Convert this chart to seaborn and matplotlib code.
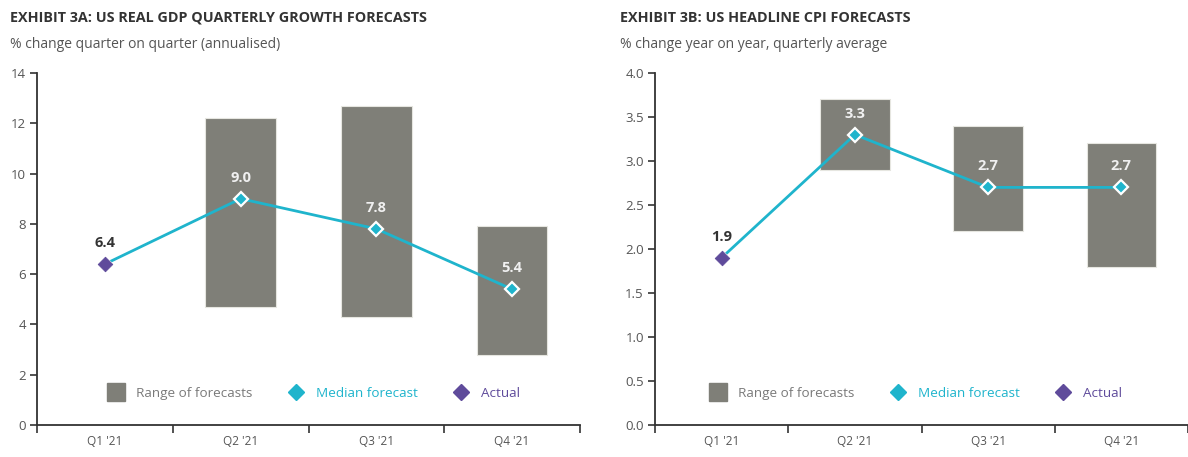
import matplotlib
matplotlib.use("Agg")
import matplotlib.pyplot as plt
from matplotlib.lines import Line2D
import numpy as np
import pandas as pd
import seaborn as sns

# Quarter labels
quarters = ["Q1 '21", "Q2 '21", "Q3 '21", "Q4 '21"]

# GDP: forecast range (low / high), median forecast and actual print
gdp_low = [np.nan, 4.7, 4.3, 2.8]
gdp_high = [np.nan, 12.2, 12.7, 7.9]
gdp_median = [np.nan, 9.0, 7.8, 5.4]
gdp_actual = [6.4, np.nan, np.nan, np.nan]

# CPI: forecast range (low / high), median forecast and actual print
cpi_low = [np.nan, 2.9, 2.2, 1.8]
cpi_high = [np.nan, 3.7, 3.4, 3.2]
cpi_median = [np.nan, 3.3, 2.7, 2.7]
cpi_actual = [1.9, np.nan, np.nan, np.nan]

GREY = "#7f7f78"
CYAN = "#1fb4cc"
PURPLE = "#5f4b9b"
DARK = "#333333"
TEXT = "#555555"

sns.set_theme(style="white")
plt.rcParams["font.family"] = ["Open Sans", "DejaVu Sans"]

fig = plt.figure(figsize=(11.88, 4.57), dpi=100)
ax1 = fig.add_axes([37 / 1188, 32 / 457, 543 / 1188, 352 / 457])
ax2 = fig.add_axes([655 / 1188, 32 / 457, 533 / 1188, 352 / 457])


def draw_panel(ax, low, high, median, actual, ylim, step, fmt, label_off, legend_x):
    df = pd.DataFrame({"quarter": quarters, "low": low, "high": high,
                       "median": median, "actual": actual})
    df["span"] = df["high"] - df["low"]
    # line runs through the actual value and then the medians
    df["path"] = df["actual"].fillna(df["median"])

    ranges = df.dropna(subset=["span"])
    sns.barplot(data=ranges, x="quarter", y="span", order=quarters,
                bottom=ranges["low"].values, color=GREY,
                width=0.52, saturation=1, edgecolor="#e6e6e0", linewidth=0.8,
                ax=ax, zorder=2)
    sns.pointplot(data=df, x="quarter", y="path", order=quarters, color=CYAN,
                  markers="D", linewidth=2, markersize=7,
                  markeredgecolor="white", markeredgewidth=1.6, ax=ax, zorder=3)
    sns.scatterplot(data=df.dropna(subset=["actual"]), x="quarter", y="actual",
                    marker="D", s=55, color=PURPLE, edgecolor=PURPLE, ax=ax,
                    zorder=4, legend=False)

    for i, row in df.iterrows():
        val = row["path"]
        on_bar = not np.isnan(row["median"])
        ax.text(i, val + label_off, f"{val:.1f}", ha="center", va="bottom",
                fontsize=10.5, fontweight="bold",
                color="#f0f0f0" if on_bar else DARK, zorder=5)

    ax.set_xlim(-0.5, 3.5)
    ax.set_ylim(*ylim)
    ax.set_yticks(np.arange(ylim[0], ylim[1] + step / 2, step))
    ax.yaxis.set_major_formatter(matplotlib.ticker.FormatStrFormatter(fmt))
    ax.set_xticks([0, 1, 2, 3])
    ax.set_xticklabels(quarters)
    ax.set_xticks([-0.5, 0.5, 1.5, 2.5, 3.5], minor=True)
    ax.tick_params(axis="x", which="major", length=0, pad=7, labelsize=8.5,
                   labelcolor=TEXT)
    ax.tick_params(axis="x", which="minor", length=6, width=1.2, color=DARK,
                   direction="out", bottom=True)
    ax.tick_params(axis="y", length=5, width=1.2, color=DARK, direction="out",
                   left=True, labelsize=9.5, labelcolor=TEXT, pad=3)
    ax.set_xlabel("")
    ax.set_ylabel("")
    sns.despine(ax=ax)
    for side in ("left", "bottom"):
        ax.spines[side].set_color(DARK)
        ax.spines[side].set_linewidth(1.3)

    handles = [
        Line2D([], [], marker="s", linestyle="none", markersize=13,
               markerfacecolor=GREY, markeredgecolor=GREY),
        Line2D([], [], marker="D", linestyle="none", markersize=8,
               markerfacecolor=CYAN, markeredgecolor=CYAN),
        Line2D([], [], marker="D", linestyle="none", markersize=8,
               markerfacecolor=PURPLE, markeredgecolor=PURPLE),
    ]
    leg = ax.legend(handles, ["Range of forecasts", "Median forecast", "Actual"],
                    ncol=3, loc="center", bbox_to_anchor=(legend_x, 0.09),
                    frameon=False, fontsize=9.7, columnspacing=2.6,
                    handletextpad=0.9, handlelength=1.2)
    for txt, col in zip(leg.get_texts(), ["#7a7a7a", CYAN, PURPLE]):
        txt.set_color(col)


draw_panel(ax1, gdp_low, gdp_high, gdp_median, gdp_actual,
           (0, 14), 2, "%d", 0.55, 0.51)
draw_panel(ax2, cpi_low, cpi_high, cpi_median, cpi_actual,
           (0, 4.0), 0.5, "%.1f", 0.16, 0.49)

fig.text(10 / 1188, 1 - 18 / 457, "EXHIBIT 3A: US REAL GDP QUARTERLY GROWTH FORECASTS",
         fontsize=10.4, fontweight="bold", color=DARK, va="center")
fig.text(10 / 1188, 1 - 45 / 457, "% change quarter on quarter (annualised)",
         fontsize=10, color=TEXT, va="center")
fig.text(620 / 1188, 1 - 18 / 457, "EXHIBIT 3B: US HEADLINE CPI FORECASTS",
         fontsize=10.4, fontweight="bold", color=DARK, va="center")
fig.text(620 / 1188, 1 - 45 / 457, "% change year on year, quarterly average",
         fontsize=10, color=TEXT, va="center")

fig.savefig("out.png", dpi=100)
